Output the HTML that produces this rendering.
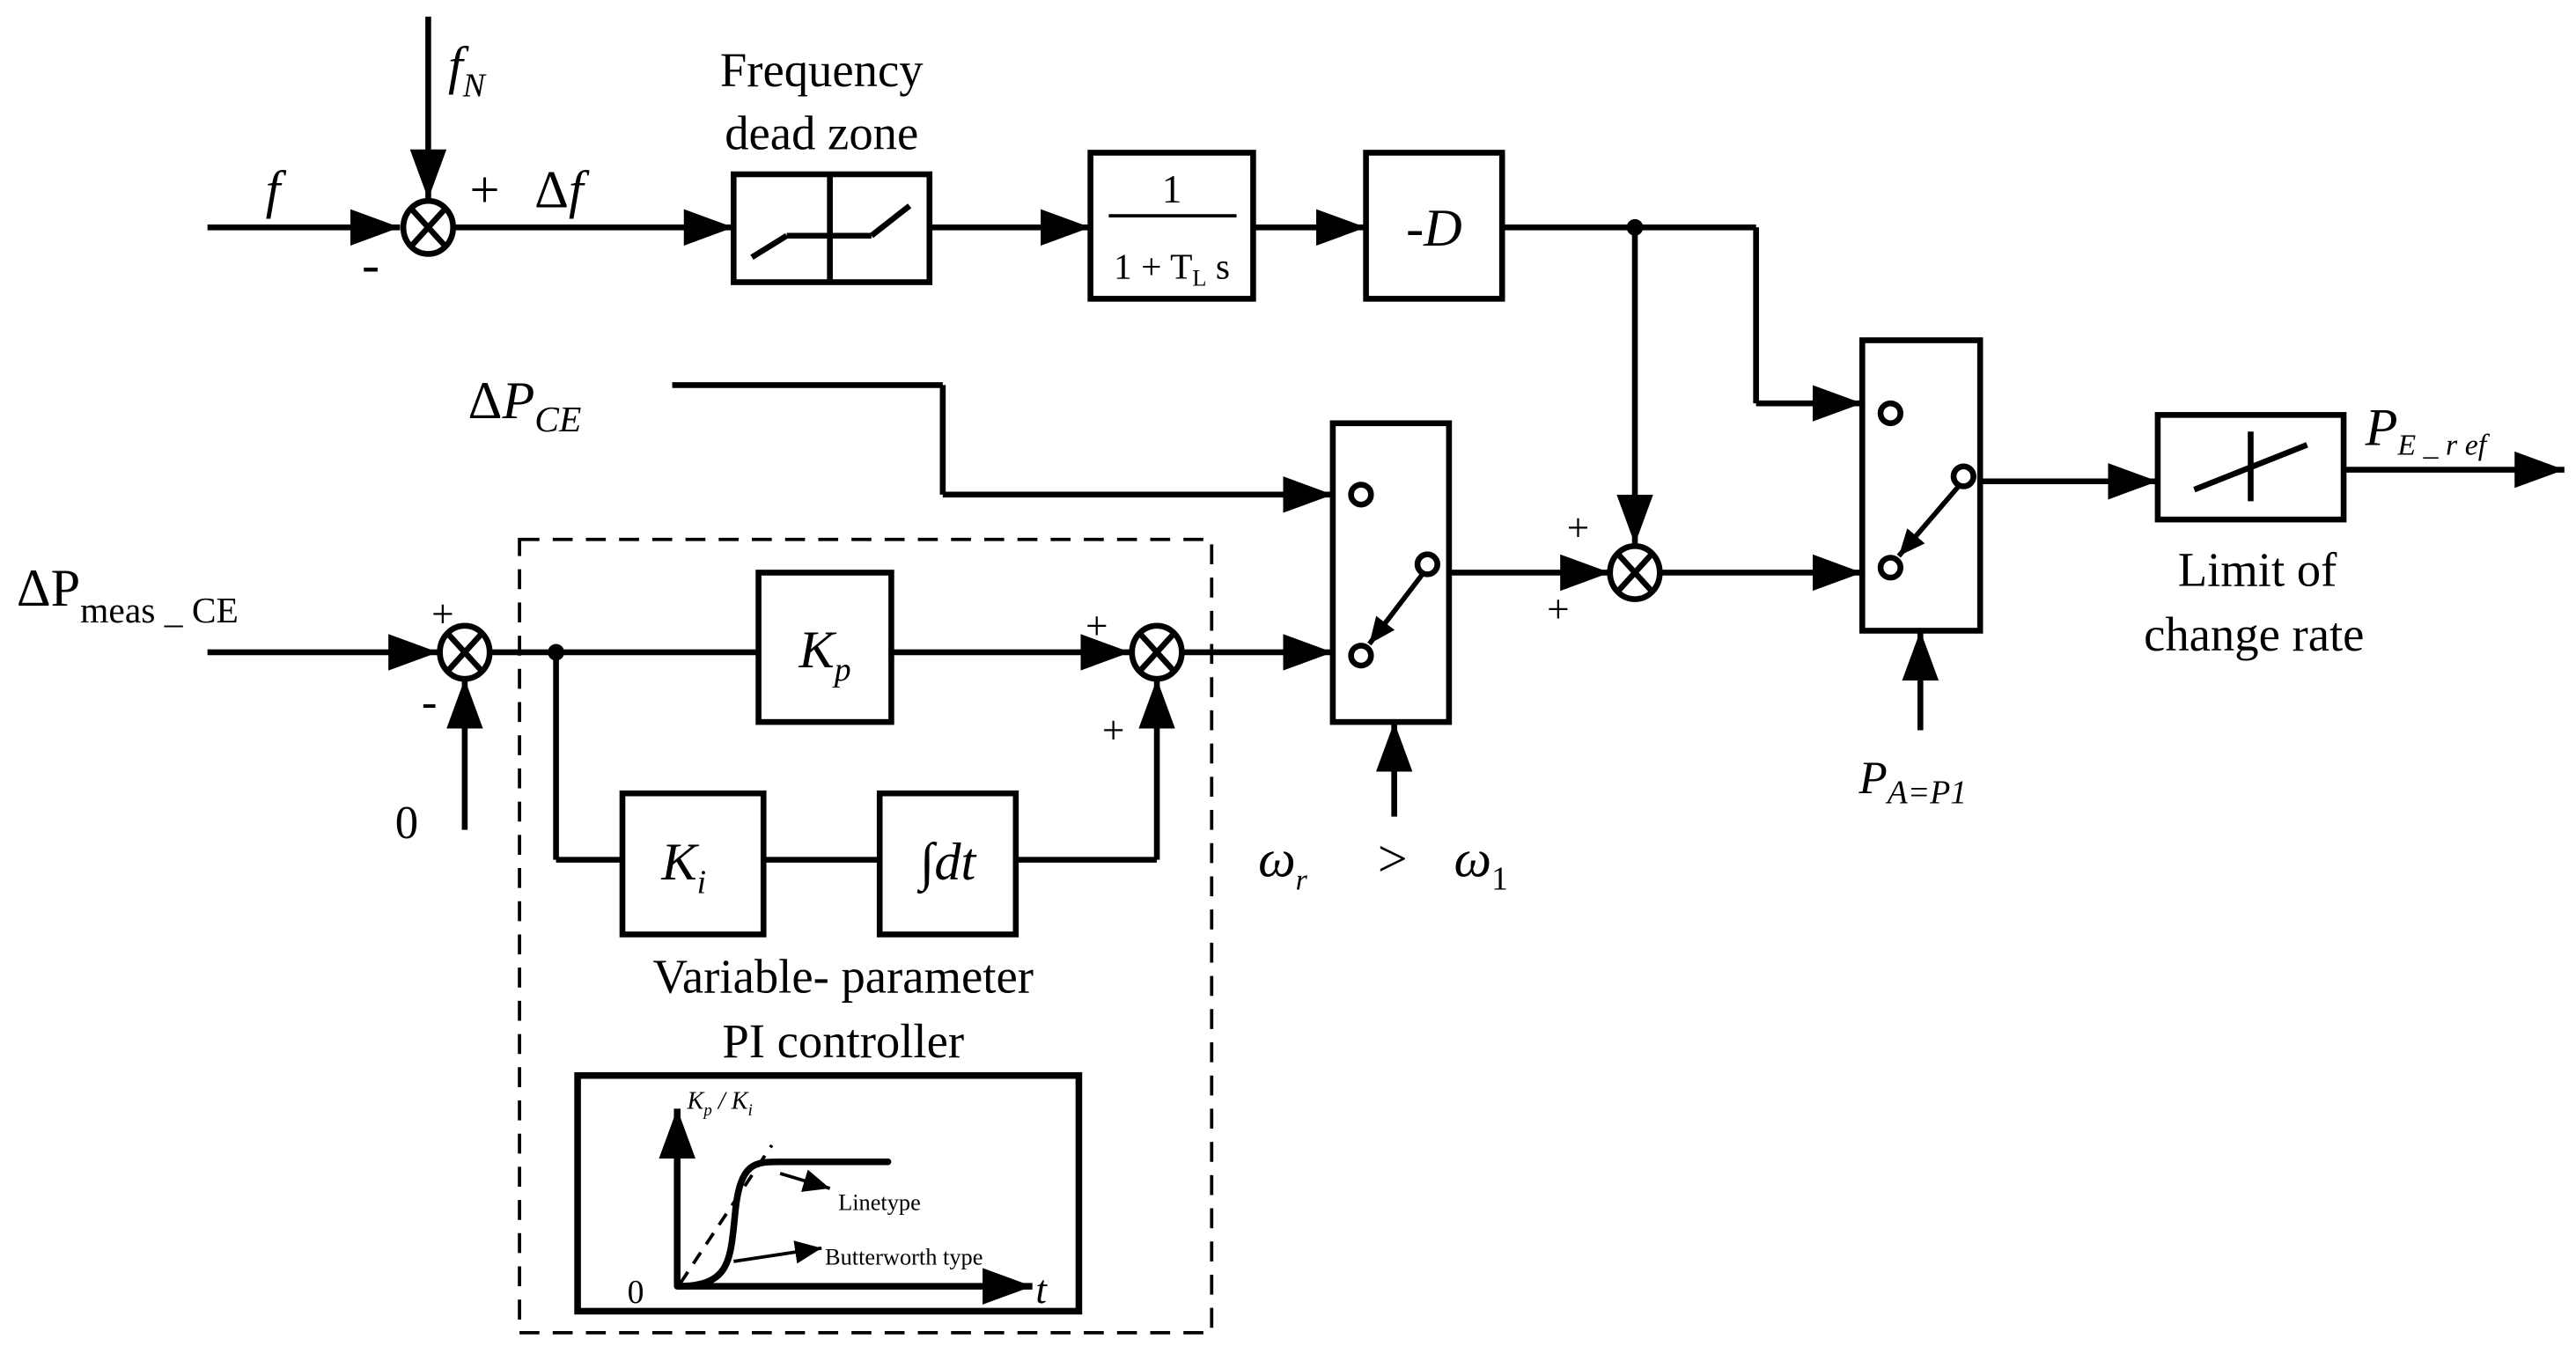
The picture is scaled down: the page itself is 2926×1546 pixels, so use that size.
<!DOCTYPE html>
<html><head><meta charset="utf-8"><style>
html,body{margin:0;padding:0;background:#fff;}
svg{display:block;}
text{font-family:"Liberation Serif",serif;fill:#000;}
</style></head><body>
<svg width="2926" height="1546" viewBox="0 0 1552 820" xmlns="http://www.w3.org/2000/svg">
<defs>
<marker id="a" viewBox="0 0 10 10" refX="10" refY="5" markerWidth="10" markerHeight="8" markerUnits="userSpaceOnUse" orient="auto" preserveAspectRatio="none"><path d="M0,0L10,5L0,10z"/></marker>
<marker id="A" viewBox="0 0 10 10" refX="10" refY="5" markerWidth="30" markerHeight="22" markerUnits="userSpaceOnUse" orient="auto" preserveAspectRatio="none"><path d="M0,0L10,5L0,10z"/></marker>
<marker id="s" viewBox="0 0 10 10" refX="10" refY="5" markerWidth="16" markerHeight="14" markerUnits="userSpaceOnUse" orient="auto" preserveAspectRatio="none"><path d="M0,0L10,5L0,10z"/></marker>
</defs>
<g stroke="#000" stroke-width="3.5" fill="none">
<line x1="125" y1="137" x2="241" y2="137" marker-end="url(#A)"/>
<line x1="258" y1="10" x2="258" y2="120" marker-end="url(#A)"/>
<ellipse cx="258" cy="137" rx="15" ry="16"/>
<line x1="248" y1="126" x2="268" y2="148"/><line x1="268" y1="126" x2="248" y2="148"/>
<line x1="273" y1="137" x2="442" y2="137" marker-end="url(#A)"/>
<rect x="442" y="105" width="118" height="65"/>
<line x1="500" y1="105" x2="500" y2="170"/>
<line x1="453" y1="155" x2="474" y2="142"/><line x1="474" y1="142" x2="525" y2="142"/><line x1="525" y1="142" x2="548" y2="124"/>
<line x1="560" y1="137" x2="657" y2="137" marker-end="url(#A)"/>
<rect x="657" y="92" width="98" height="88"/>
<line x1="668" y1="130" x2="745" y2="130" stroke-width="2"/>
<line x1="755" y1="137" x2="823" y2="137" marker-end="url(#A)"/>
<rect x="823" y="92" width="82" height="88"/>
<line x1="905" y1="137" x2="1058" y2="137"/>
<line x1="1058" y1="137" x2="1058" y2="243"/>
<line x1="1058" y1="243" x2="1122" y2="243" marker-end="url(#A)"/>
<line x1="985" y1="137" x2="985" y2="328" marker-end="url(#A)"/>
<rect x="1122" y="205" width="71" height="175"/>
<circle cx="1139" cy="249" r="6"/><circle cx="1139" cy="342" r="6"/><circle cx="1183" cy="287" r="6"/>
<line x1="1180" y1="293" x2="1144" y2="335" stroke-width="3" marker-end="url(#s)"/>
<line x1="1193" y1="290" x2="1300" y2="290" marker-end="url(#A)"/>
<line x1="1157" y1="440" x2="1157" y2="380" marker-end="url(#A)"/>
<rect x="1300" y="250" width="112" height="63"/>
<line x1="1322" y1="295" x2="1390" y2="268"/><line x1="1356" y1="260" x2="1356" y2="302"/>
<line x1="1412" y1="283" x2="1545" y2="283" marker-end="url(#A)"/>
<ellipse cx="985" cy="345" rx="15" ry="16"/>
<line x1="975" y1="334" x2="995" y2="356"/><line x1="995" y1="334" x2="975" y2="356"/>
<line x1="873" y1="345" x2="970" y2="345" marker-end="url(#A)"/>
<line x1="1000" y1="345" x2="1122" y2="345" marker-end="url(#A)"/>
<rect x="803" y="255" width="70" height="180"/>
<circle cx="820" cy="298" r="6"/><circle cx="860" cy="340" r="6"/><circle cx="820" cy="395" r="6"/>
<line x1="857" y1="346" x2="825" y2="388" stroke-width="3" marker-end="url(#s)"/>
<line x1="405" y1="232" x2="568" y2="232"/><line x1="568" y1="232" x2="568" y2="298"/>
<line x1="568" y1="298" x2="803" y2="298" marker-end="url(#A)"/>
<line x1="840" y1="492" x2="840" y2="435" marker-end="url(#A)"/>
<line x1="125" y1="393" x2="264" y2="393" marker-end="url(#A)"/>
<ellipse cx="280" cy="393" rx="15" ry="16"/>
<line x1="270" y1="382" x2="290" y2="404"/><line x1="290" y1="382" x2="270" y2="404"/>
<line x1="280" y1="500" x2="280" y2="409" marker-end="url(#A)"/>
<line x1="295" y1="393" x2="457" y2="393"/>
<rect x="457" y="345" width="80" height="90"/>
<line x1="537" y1="393" x2="681" y2="393" marker-end="url(#A)"/>
<ellipse cx="697" cy="393" rx="15" ry="16"/>
<line x1="687" y1="382" x2="707" y2="404"/><line x1="707" y1="382" x2="687" y2="404"/>
<line x1="335" y1="393" x2="335" y2="518"/><line x1="335" y1="518" x2="375" y2="518"/>
<rect x="375" y="478" width="85" height="85"/>
<line x1="460" y1="518" x2="530" y2="518"/>
<rect x="530" y="478" width="82" height="85"/>
<line x1="612" y1="518" x2="697" y2="518"/>
<line x1="697" y1="518" x2="697" y2="409" marker-end="url(#A)"/>
<line x1="712" y1="393" x2="803" y2="393" marker-end="url(#A)"/>
<rect x="313" y="325" width="417" height="478" stroke-width="2" stroke-dasharray="12,8"/>
<rect x="348" y="648" width="302" height="142" stroke-width="4"/>
<line x1="408" y1="775" x2="408" y2="668" stroke-width="4" marker-end="url(#A)"/>
<line x1="408" y1="775" x2="622" y2="775" stroke-width="4" marker-end="url(#A)"/>
<path d="M408,775 C440,775 440,760 443,730 C446,700 455,700 470,700 L535,700" stroke-width="4" stroke-linecap="round"/>
<line x1="410" y1="773" x2="465" y2="690" stroke-width="2" stroke-dasharray="8,6"/>
<line x1="470" y1="707" x2="500" y2="716" stroke-width="2" marker-end="url(#s)"/>
<line x1="442" y1="760" x2="495" y2="752" stroke-width="2" marker-end="url(#s)"/>
</g>
<circle cx="985" cy="137" r="5"/>
<circle cx="335" cy="393" r="5"/>
<g font-size="32">
<text x="160" y="125" font-style="italic">f</text>
<text x="270" y="50" font-style="italic">f<tspan font-size="20" dy="8">N</tspan></text>
<text x="283" y="125">+</text>
<text x="218" y="170">-</text>
<text x="322" y="125">Δ<tspan font-style="italic">f</tspan></text>
<text x="495" y="52" text-anchor="middle" font-size="29">Frequency</text>
<text x="495" y="90" text-anchor="middle" font-size="29">dead zone</text>
<text x="706" y="122" text-anchor="middle" font-size="24">1</text>
<text x="706" y="168" text-anchor="middle" font-size="22">1 + T<tspan font-size="14" dy="4">L</tspan><tspan dy="-4"> s</tspan></text>
<text x="864" y="148" text-anchor="middle" font-style="italic">-D</text>
<text x="282" y="252">Δ<tspan font-style="italic">P</tspan><tspan font-style="italic" font-size="22" dy="8">CE</tspan></text>
<text x="10" y="365">ΔP<tspan font-size="22" dy="10">meas _ CE</tspan></text>
<text x="260" y="378" font-size="24">+</text>
<text x="254" y="432" font-size="28">-</text>
<text x="238" y="505" font-size="28">0</text>
<text x="497" y="402" text-anchor="middle" font-style="italic">K<tspan font-size="20" dy="8">p</tspan></text>
<text x="654" y="385" font-size="24">+</text>
<text x="664" y="448" font-size="24">+</text>
<text x="412" y="530" text-anchor="middle" font-style="italic">K<tspan font-size="20" dy="8">i</tspan></text>
<text x="571" y="530" text-anchor="middle">∫<tspan font-style="italic">dt</tspan></text>
<text x="508" y="598" text-anchor="middle" font-size="29">Variable- parameter</text>
<text x="508" y="637" text-anchor="middle" font-size="29">PI controller</text>
<text x="944" y="326" font-size="24">+</text>
<text x="932" y="375" font-size="24">+</text>
<text x="758" y="528" font-style="italic">ω<tspan font-size="18" dy="8">r</tspan></text>
<text x="830" y="528">&gt;</text>
<text x="876" y="528" font-style="italic">ω<tspan font-size="20" font-style="normal" dy="8">1</tspan></text>
<text x="1120" y="478" font-style="italic" font-size="28">P<tspan font-size="20" dy="6">A=P1</tspan></text>
<text x="1360" y="353" text-anchor="middle" font-size="29">Limit of</text>
<text x="1358" y="392" text-anchor="middle" font-size="29">change rate</text>
<text x="1425" y="268" font-style="italic">P<tspan font-size="18" dy="6">E _ r ef</tspan></text>
<text x="414" y="668" font-style="italic" font-size="15">K<tspan font-size="10" dy="4">p</tspan><tspan dy="-4"> / K</tspan><tspan font-size="10" dy="4">i</tspan></text>
<text x="505" y="729" font-size="14">Linetype</text>
<text x="497" y="762" font-size="14">Butterworth type</text>
<text x="378" y="785" font-size="20">0</text>
<text x="624" y="785" font-size="24" font-style="italic">t</text>
</g>
</svg>
</body></html>
